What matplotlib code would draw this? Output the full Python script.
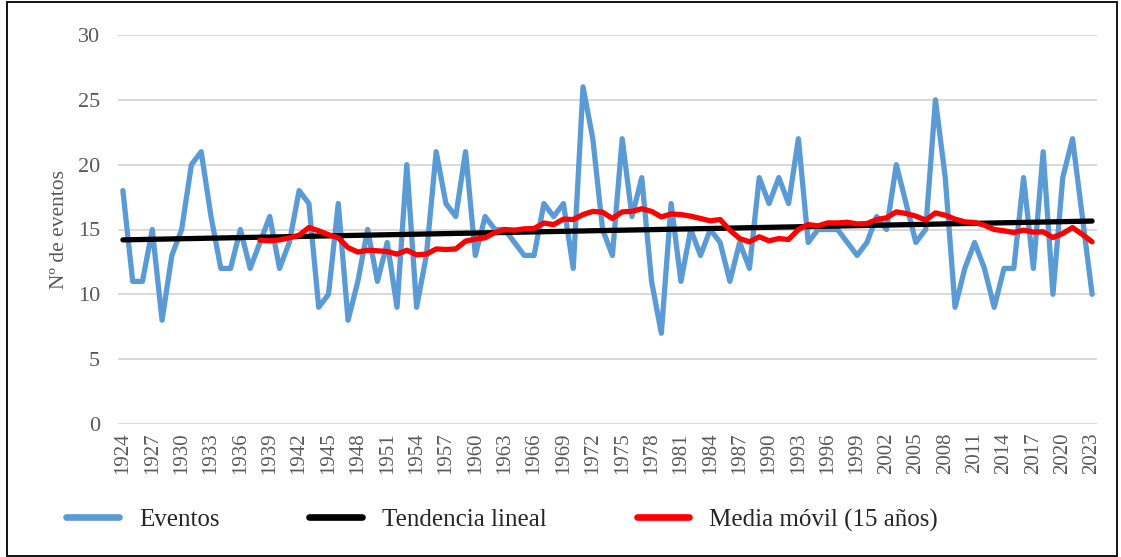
import matplotlib
matplotlib.use("Agg")
import matplotlib.pyplot as plt
from matplotlib.patches import Rectangle

years = list(range(1924, 2024))
eventos = [18, 11, 11, 15, 8, 13, 15, 20, 21, 16,
           12, 12, 15, 12, 14, 16, 12, 14, 18, 17,
           9, 10, 17, 8, 11, 15, 11, 14, 9, 20,
           9, 13, 21, 17, 16, 21, 13, 16, 15, 15,
           14, 13, 13, 17, 16, 17, 12, 26, 22, 15,
           13, 22, 16, 19, 11, 7, 17, 11, 15, 13,
           15, 14, 11, 14, 12, 19, 17, 19, 17, 22,
           14, 15, 15, 15, 14, 13, 14, 16, 15, 20,
           17, 14, 15, 25, 19, 9, 12, 14, 12, 9,
           12, 12, 19, 12, 21, 10, 19, 22, 16, 10]

ma_years = list(range(1938, 2024))
media_movil = [14.18, 14.13, 14.2, 14.36, 14.56, 15.15, 14.9, 14.6, 14.36, 13.6,
               13.26, 13.4, 13.36, 13.3, 13.1, 13.4, 13.05, 13.1, 13.5, 13.46,
               13.5, 14.1, 14.26, 14.36, 14.77, 15.0, 14.95, 15.05, 15.08, 15.5,
               15.38, 15.8, 15.77, 16.15, 16.4, 16.33, 15.85, 16.36, 16.4, 16.6,
               16.4, 15.97, 16.2, 16.15, 16.03, 15.85, 15.67, 15.77, 14.95, 14.3,
               14.05, 14.44, 14.13, 14.3, 14.23, 15.0, 15.38, 15.28, 15.51, 15.51,
               15.56, 15.43, 15.46, 15.77, 15.9, 16.36, 16.23, 16.03, 15.72, 16.28,
               16.1, 15.8, 15.59, 15.54, 15.33, 15.0, 14.9, 14.77, 14.95, 14.8,
               14.82, 14.38, 14.69, 15.15, 14.62, 14.05]

trend_years = [1924, 2023]
trend_values = [14.2, 15.65]

tick_years = list(range(1924, 2024, 3))
y_ticks = [0, 5, 10, 15, 20, 25, 30]

serif = ["Liberation Serif", "DejaVu Serif"]
gray = "#595959"

fig = plt.figure(figsize=(11.21, 5.57), dpi=100)
ax = fig.add_axes([118/1121, 1 - 424/557, (1097-118)/1121, (424-35)/557])

ax.plot(years, eventos, color="#5B9BD5", lw=3.8, solid_joinstyle="round",
        solid_capstyle="round", label="Eventos", zorder=3)
ax.plot(trend_years, trend_values, color="black", lw=3.8,
        solid_capstyle="round", label="Tendencia lineal", zorder=4)
ax.plot(ma_years, media_movil, color="#FF0000", lw=3.8, solid_joinstyle="round",
        solid_capstyle="round", label="Media móvil (15 años)", zorder=5)

ax.set_xlim(1923.5, 2023.5)
ax.set_ylim(0, 30)
ax.set_yticks(y_ticks)
ax.set_xticks(tick_years)
ax.set_xticklabels([str(y) for y in tick_years], rotation=90, family=serif,
                   fontsize=15, color=gray)
ax.set_yticklabels([str(v) for v in y_ticks], family=serif, fontsize=16, color=gray)
ax.tick_params(axis="both", length=0)
ax.tick_params(axis="y", pad=13)
ax.tick_params(axis="x", pad=6)
ax.grid(axis="y", color="#D9D9D9", lw=1.4)
ax.set_axisbelow(True)
for s in ax.spines.values():
    s.set_visible(False)

ax.set_ylabel("Nº de eventos", family=serif, fontsize=15.5, color=gray, labelpad=6)

leg = fig.legend(loc="center", bbox_to_anchor=(502/1121, 1 - 520/557), ncol=3,
                 frameon=False, prop={"family": serif, "size": 18},
                 handlelength=2.1, handletextpad=0.8, columnspacing=3.6)
for t in leg.get_texts():
    t.set_color("#262626")
for h in leg.legend_handles:
    h.set_linewidth(4.8)

fig.patches.append(Rectangle((7/1121, 1/557), (1117-7)/1121, (556-2)/557,
                             transform=fig.transFigure, fill=False,
                             edgecolor="black", lw=1.3))

fig.savefig("out.png", dpi=100)
